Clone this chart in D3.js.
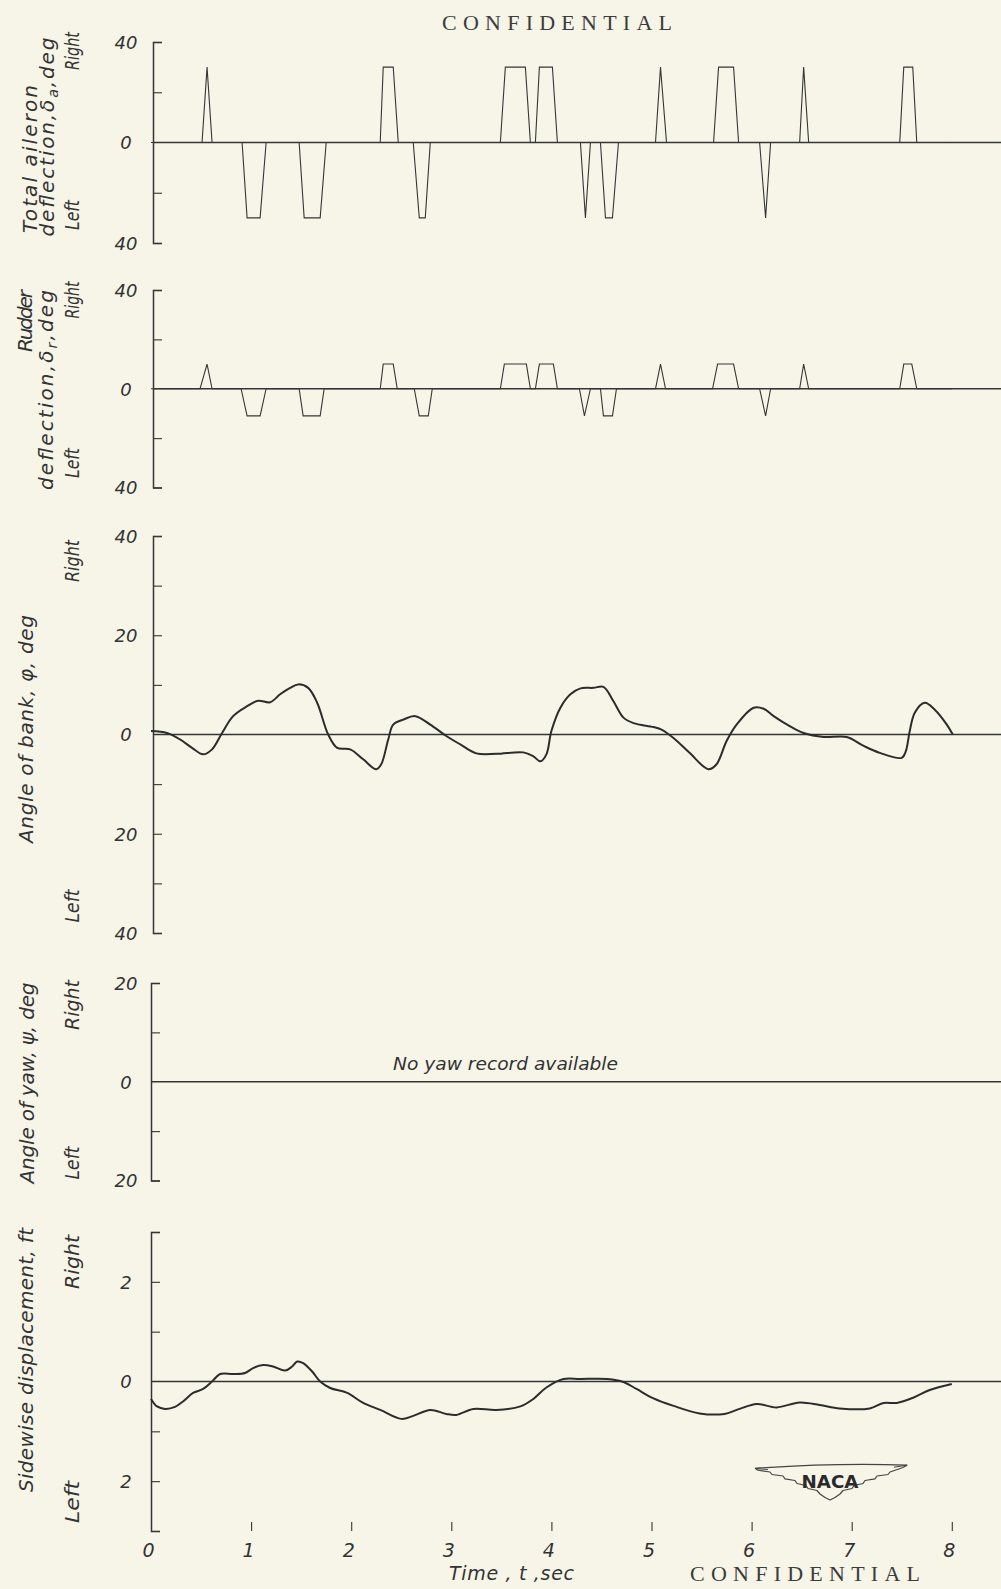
<!DOCTYPE html>
<html>
<head>
<meta charset="utf-8">
<script src="https://cdn.jsdelivr.net/npm/d3@7"></script>
<style>
  html, body { margin: 0; padding: 0; background: #f6f5e8; }
  svg { display: block; }
  .hand { font-family: "DejaVu Sans", sans-serif; font-style: italic; font-weight: 200; fill: #333; }
  .type { font-family: "Liberation Serif", "DejaVu Serif", serif; fill: #3c3c3c; }
</style>
</head>
<body>
<svg id="chart" width="1001" height="1589"></svg>
<script>
// ---- time base, sec ----
const timeTickValues  = [1, 2, 3, 4, 5, 6, 7, 8];
const timeLabelValues = [0, 1, 2, 3, 4, 5, 6, 7, 8];

// ---- total aileron deflection, deg (right +, left -) ----
const aileronTime = [0,
  0.51, 0.56, 0.61,   0.91, 0.96, 1.09, 1.15,   1.48, 1.53, 1.69, 1.75,
  2.29, 2.32, 2.42, 2.47,   2.62, 2.68, 2.74, 2.79,   3.49, 3.54, 3.74, 3.79,
  3.84, 3.88, 4.01, 4.06,   4.29, 4.34, 4.39,   4.49, 4.54, 4.61, 4.67,
  5.04, 5.09, 5.15,   5.62, 5.67, 5.82, 5.87,   6.08, 6.14, 6.19,
  6.48, 6.52, 6.57,   7.48, 7.52, 7.61, 7.65,  8];
const aileronDeg = [0,
  0, 30, 0,   0, -30, -30, 0,   0, -30, -30, 0,
  0, 30, 30, 0,   0, -30, -30, 0,   0, 30, 30, 0,
  0, 30, 30, 0,   0, -30, 0,   0, -30, -30, 0,
  0, 30, 0,   0, 30, 30, 0,   0, -30, 0,
  0, 30, 0,   0, 30, 30, 0,  0];
const aileronTicks  = [-40, -20, 0, 20, 40];
const aileronLabels = [-40, 0, 40];

// ---- rudder deflection, deg ----
const rudderTime = [0,
  0.49, 0.56, 0.61,   0.90, 0.96, 1.09, 1.15,   1.48, 1.52, 1.69, 1.73,
  2.29, 2.32, 2.42, 2.46,   2.63, 2.68, 2.77, 2.81,   3.49, 3.53, 3.75, 3.79,
  3.84, 3.88, 4.02, 4.06,   4.28, 4.33, 4.39,   4.49, 4.52, 4.61, 4.65,
  5.04, 5.09, 5.14,   5.61, 5.66, 5.82, 5.87,   6.08, 6.14, 6.19,
  6.48, 6.52, 6.57,   7.48, 7.52, 7.60, 7.65,  8];
const rudderDeg = [0,
  0, 10, 0,   0, -11, -11, 0,   0, -11, -11, 0,
  0, 10, 10, 0,   0, -11, -11, 0,   0, 10, 10, 0,
  0, 10, 10, 0,   0, -11, 0,   0, -11, -11, 0,
  0, 10, 0,   0, 10, 10, 0,   0, -11, 0,
  0, 10, 0,   0, 10, 10, 0,  0];
const rudderTicks  = [-40, -20, 0, 20, 40];
const rudderLabels = [-40, 0, 40];

// ---- angle of bank, deg ----
const bankTime = [0.00, 0.16, 0.29, 0.41, 0.52, 0.61, 0.71, 0.82, 0.96, 1.07,
  1.19, 1.29, 1.39, 1.47, 1.57, 1.66, 1.77, 1.86, 1.99, 2.12,
  2.25, 2.30, 2.37, 2.42, 2.52, 2.64, 2.79, 2.95, 3.09, 3.25,
  3.45, 3.72, 3.82, 3.89, 3.95, 4.00, 4.09, 4.19, 4.29, 4.42,
  4.52, 4.62, 4.72, 4.82, 5.02, 5.10, 5.22, 5.38, 5.57, 5.65,
  5.75, 5.85, 6.02, 6.12, 6.22, 6.38, 6.52, 6.72, 6.95, 7.12,
  7.28, 7.50, 7.54, 7.58, 7.63, 7.73, 7.83, 7.95, 8.01];
const bankDeg = [0.7, 0.3, -1.0, -2.7, -4.0, -3.0, 0.3, 3.7, 5.7, 6.8,
  6.5, 8.1, 9.4, 10.1, 9.4, 6.4, 0.0, -2.7, -3.0, -5.0,
  -7.0, -6.0, -1.0, 2.0, 3.0, 3.7, 2.0, -0.3, -2.0, -3.8,
  -3.9, -3.6, -4.4, -5.4, -4.0, 0.7, 5.4, 8.1, 9.3, 9.4,
  9.6, 6.7, 3.4, 2.3, 1.5, 1.0, -0.7, -3.7, -7.0, -6.0,
  -1.3, 2.0, 5.4, 5.2, 3.7, 1.7, 0.3, -0.5, -0.5, -2.3,
  -3.7, -4.7, -3.4, 0.7, 4.4, 6.4, 5.0, 2.0, 0.0];
const bankTicks  = [-40, -30, -20, -10, 0, 10, 20, 30, 40];
const bankLabels = [-40, -20, 0, 20, 40];

// ---- angle of yaw, deg (no record) ----
const yawTicks  = [-20, -10, 0, 10, 20];
const yawLabels = [-20, 0, 20];

// ---- sidewise displacement, ft ----
const sideTime = [0.00, 0.06, 0.14, 0.24, 0.32, 0.42, 0.52, 0.61, 0.69, 0.82,
  0.94, 1.02, 1.12, 1.22, 1.34, 1.41, 1.46, 1.52, 1.61, 1.69,
  1.79, 1.96, 2.12, 2.29, 2.50, 2.62, 2.79, 2.95, 3.05, 3.22,
  3.45, 3.69, 3.82, 3.95, 4.12, 4.29, 4.56, 4.72, 4.85, 5.02,
  5.22, 5.48, 5.73, 5.88, 6.05, 6.25, 6.48, 6.68, 6.88, 7.18,
  7.32, 7.45, 7.62, 7.78, 8.00];
const sideFt = [-0.35, -0.50, -0.55, -0.51, -0.40, -0.23, -0.15, 0.00, 0.15, 0.15,
  0.17, 0.27, 0.33, 0.30, 0.22, 0.30, 0.40, 0.37, 0.20, 0.00,
  -0.13, -0.23, -0.43, -0.57, -0.75, -0.69, -0.57, -0.65, -0.67, -0.55,
  -0.57, -0.50, -0.35, -0.12, 0.05, 0.05, 0.05, -0.01, -0.15, -0.34,
  -0.49, -0.64, -0.65, -0.55, -0.45, -0.52, -0.42, -0.47, -0.54, -0.54,
  -0.43, -0.43, -0.32, -0.17, -0.05];
const sideTicks  = [-3, -2, -1, 0, 1, 2, 3];
const sideLabels = [-2, 0, 2];

// ---------------------------------------------------------------
const W = 1001, H = 1589;
const svg = d3.select("#chart");
svg.append("rect").attr("width", W).attr("height", H).attr("fill", "#f6f5e8");

const x = d3.scaleLinear().domain([0, 8]).range([151, 951.8]);
const INK = "#363636";

// panel frames
const panels = {
  aileron: { axisX: 153, top: 42,   bottom: 243,   domain: [-40, 40], ticks: aileronTicks, labels: aileronLabels },
  rudder:  { axisX: 153, top: 290,  bottom: 487.5, domain: [-40, 40], ticks: rudderTicks,  labels: rudderLabels },
  bank:    { axisX: 153, top: 536,  bottom: 933,   domain: [-40, 40], ticks: bankTicks,    labels: bankLabels },
  yaw:     { axisX: 151, top: 983,  bottom: 1180.5,domain: [-20, 20], ticks: yawTicks,     labels: yawLabels },
  side:    { axisX: 151, top: 1232, bottom: 1531,  domain: [-3, 3],   ticks: sideTicks,    labels: sideLabels }
};

Object.values(panels).forEach(p => {
  p.y = d3.scaleLinear().domain(p.domain).range([p.bottom, p.top]);

  // zero reference line
  svg.append("line")
    .attr("x1", p.axisX).attr("x2", W)
    .attr("y1", p.y(0)).attr("y2", p.y(0))
    .attr("stroke", INK).attr("stroke-width", 1.4);

  // bracket axis with inward ticks
  const ax = svg.append("g")
    .attr("transform", `translate(${p.axisX},0)`)
    .call(d3.axisRight(p.y).tickValues(p.ticks.filter(v => v !== 0))
      .tickSizeInner(9).tickSizeOuter(9).tickFormat(""));
  ax.select(".domain").attr("stroke", INK).attr("stroke-width", 1.5).attr("fill", "none");
  ax.selectAll(".tick line").attr("stroke", INK).attr("stroke-width", 1.1);

  // numeric labels (magnitudes only)
  const lb = svg.append("g")
    .attr("transform", `translate(${p.axisX},0)`)
    .call(d3.axisLeft(p.y).tickValues(p.labels).tickSize(0).tickFormat(v => String(Math.abs(v))));
  lb.select(".domain").remove();
  lb.selectAll("text")
    .attr("class", "hand")
    .attr("x", 126 - p.axisX)
    .attr("text-anchor", "middle")
    .attr("dy", "0.36em")
    .style("font-size", "18px");
});

// control deflection traces
const pulseLine = (p) => d3.line().x(d => x(d[0])).y(d => p.y(d[1]));
svg.append("path")
  .datum(d3.zip(aileronTime, aileronDeg))
  .attr("d", pulseLine(panels.aileron))
  .attr("fill", "none").attr("stroke", INK).attr("stroke-width", 1.1);
svg.append("path")
  .datum(d3.zip(rudderTime, rudderDeg))
  .attr("d", pulseLine(panels.rudder))
  .attr("fill", "none").attr("stroke", INK).attr("stroke-width", 1.1);

// response traces
const smoothLine = (p) => d3.line().x(d => x(d[0])).y(d => p.y(d[1])).curve(d3.curveCatmullRom.alpha(0.5));
svg.append("path")
  .datum(d3.zip(bankTime, bankDeg))
  .attr("d", smoothLine(panels.bank))
  .attr("fill", "none").attr("stroke", "#2c2c2c").attr("stroke-width", 2);
svg.append("path")
  .datum(d3.zip(sideTime, sideFt))
  .attr("d", smoothLine(panels.side))
  .attr("fill", "none").attr("stroke", "#2c2c2c").attr("stroke-width", 2);

// yaw note
svg.append("text").attr("class", "hand")
  .attr("x", 393).attr("y", 1070)
  .attr("textLength", 225).attr("lengthAdjust", "spacingAndGlyphs")
  .style("font-size", "17px")
  .text("No yaw record available");

// time axis: marks and numbers
const tAx = svg.append("g").attr("transform", `translate(0,${panels.side.bottom})`)
  .call(d3.axisTop(x).tickValues(timeTickValues).tickSize(9).tickFormat(""));
tAx.select(".domain").remove();
tAx.selectAll(".tick line").attr("stroke", INK).attr("stroke-width", 1.1);

const tLb = svg.append("g").attr("transform", `translate(0,1550)`)
  .call(d3.axisBottom(x).tickValues(timeLabelValues).tickSize(0).tickFormat(d3.format("d")));
tLb.select(".domain").remove();
tLb.selectAll("text").attr("class", "hand").attr("y", 0).attr("dy", "0.36em")
  .attr("x", -3).style("font-size", "19px");

svg.append("text").attr("class", "hand")
  .attr("x", 449).attr("y", 1580)
  .attr("textLength", 125).attr("lengthAdjust", "spacing")
  .style("font-size", "19px")
  .text("Time , t ,sec");

// rotated axis titles
function vText(parts, bx, cy, len, size, adjust) {
  const t = svg.append("text").attr("class", "hand")
    .attr("transform", `translate(${bx},${cy}) rotate(-90)`)
    .attr("text-anchor", "middle")
    .attr("textLength", len).attr("lengthAdjust", adjust || "spacing")
    .style("font-size", size + "px");
  parts.forEach(pt => {
    const s = t.append("tspan").text(pt.t);
    if (pt.sub) s.attr("baseline-shift", "-25%").style("font-size", (size * 0.72) + "px");
  });
  return t;
}
const fs = 20, side = 19, SG = "spacingAndGlyphs";
vText([{t: "Total aileron"}], 37, 159, 148, fs);
vText([{t: "deflection,δ"}, {t: "a", sub: true}, {t: ",deg"}], 54, 137, 199, fs);
vText([{t: "Right"}], 79, 51, 38, side, SG);
vText([{t: "Left"}], 79, 215, 30, side, SG);

vText([{t: "Rudder"}], 32, 321, 62, fs);
vText([{t: "deflection,δ"}, {t: "r", sub: true}, {t: ",deg"}], 53, 390, 200, fs);
vText([{t: "Right"}], 79, 300, 37, side, SG);
vText([{t: "Left"}], 79, 463, 30, side, SG);

vText([{t: "Angle of bank, φ, deg"}], 33, 729, 228, fs);
vText([{t: "Right"}], 79, 561, 42, side, SG);
vText([{t: "Left"}], 79, 906, 33, side, SG);

vText([{t: "Angle of yaw, ψ, deg"}], 34, 1083, 201, fs);
vText([{t: "Right"}], 79, 1005, 50, side, SG);
vText([{t: "Left"}], 79, 1163, 33, side, SG);

vText([{t: "Sidewise displacement, ft"}], 33, 1360, 264, fs);
vText([{t: "Right"}], 79, 1262, 54, side, SG);
vText([{t: "Left"}], 79, 1502, 42, side, SG);

// security stamps
svg.append("text").attr("class", "type")
  .attr("x", 442).attr("y", 30)
  .attr("textLength", 230).attr("lengthAdjust", "spacing")
  .style("font-size", "22px").text("CONFIDENTIAL");
svg.append("text").attr("class", "type")
  .attr("x", 690).attr("y", 1581)
  .attr("textLength", 230).attr("lengthAdjust", "spacing")
  .style("font-size", "22px").text("CONFIDENTIAL");

// NACA wings emblem
const logo = svg.append("g").attr("transform", "translate(830,1466)");
const wing = [
  [-75, 2.3], [-72, 4.2], [-60, 6], [-58, 8.5], [-47, 10], [-45, 12.8], [-35, 14.5], [-33, 17.5],
  [-24, 19.5], [-22, 22.5], [-13, 24.5], [-10, 28], [-5, 31.5], [0, 34],
  [5, 31.5], [10, 28], [13, 24.5], [22, 22.5], [24, 19.5], [33, 17.5], [35, 14.5], [45, 12.8],
  [47, 10], [58, 8.5], [60, 6], [73, 1.5], [77, -0.8]
];
const wingPath = d3.path();
wingPath.moveTo(wing[0][0], wing[0][1]);
wing.slice(1).forEach(p => wingPath.lineTo(p[0], p[1]));
wingPath.quadraticCurveTo(10, -3.5, -75, 2.3);
logo.append("path").attr("d", wingPath.toString())
  .attr("fill", "none").attr("stroke", "#444").attr("stroke-width", 1.2).attr("stroke-linejoin", "round");
logo.append("path").attr("d", "M-75,2.3 L-62,3.6 M77,-0.8 L64,1.2")
  .attr("fill", "none").attr("stroke", "#444").attr("stroke-width", 1);
logo.append("text").attr("x", 0).attr("y", 22).attr("text-anchor", "middle")
  .attr("textLength", 57).attr("lengthAdjust", "spacingAndGlyphs")
  .style("font-family", "'DejaVu Sans', sans-serif").style("font-size", "18px")
  .style("font-weight", "bold")
  .style("fill", "#2a2a2a").text("NACA");
</script>
</body>
</html>
